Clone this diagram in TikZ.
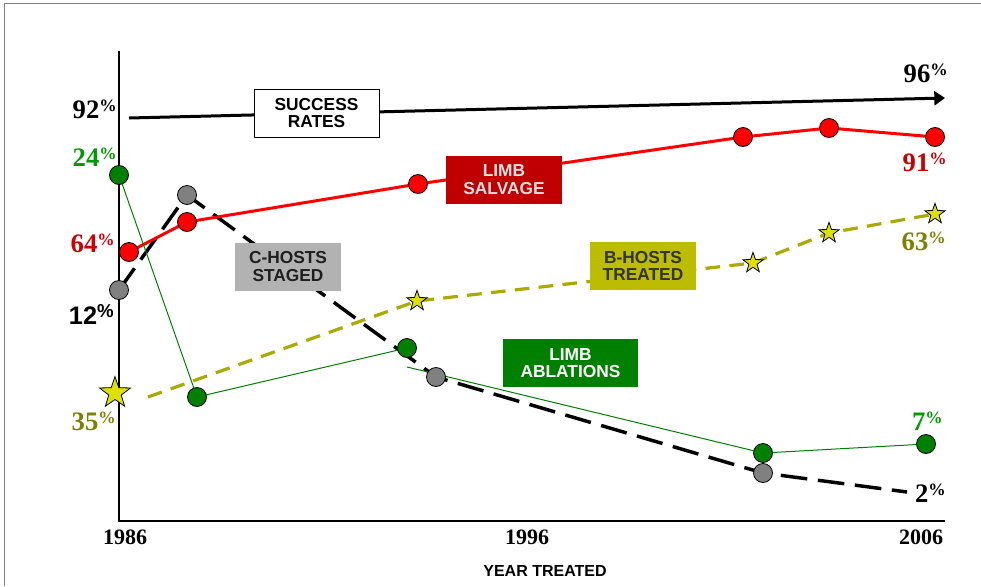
\documentclass[tikz,border=0pt]{standalone}
\usepackage{fontspec}
\setmainfont{Liberation Serif}
\setsansfont{Liberation Sans}
\usetikzlibrary{shapes.geometric,arrows.meta}
\pgfdeclarelayer{back}
\pgfsetlayers{back,main}
\definecolor{salvred}{RGB}{192,0,0}
\definecolor{pctred}{RGB}{204,0,0}
\definecolor{ablgreen}{RGB}{0,128,0}
\definecolor{pctgreen}{RGB}{0,155,0}
\definecolor{stagegray}{RGB}{178,178,178}
\definecolor{dotgray}{RGB}{128,128,128}
\definecolor{hostolive}{RGB}{170,170,0}
\definecolor{boxolive}{RGB}{189,189,0}
\definecolor{pctolive}{RGB}{128,128,0}
\definecolor{staryellow}{RGB}{224,224,0}
\newcommand{\pc}[1]{#1\raisebox{5.25pt}{\fontsize{13}{13}\selectfont\%}}
\begin{document}
\begin{tikzpicture}[x=0.75pt,y=-0.75pt,every node/.style={inner sep=0pt},
  pct/.style={font=\bfseries\fontsize{20}{20}\selectfont,anchor=base east},
  yr/.style={font=\bfseries\fontsize{16.5}{16.5}\selectfont,anchor=base},
  lbox/.style={font=\sffamily\bfseries\fontsize{13}{13}\selectfont,align=center,minimum height=36pt},
  dotc/.style={circle,draw=black,line width=0.6pt,minimum size=14.25pt,fill=#1},
  hoststar/.style={star,star points=5,star point ratio=2.5,draw=black,line width=0.6pt,fill=staryellow,minimum size=#1}]
  \useasboundingbox (0,0) rectangle (981,586);
  \draw[gray,line width=0.75pt] (4,586) -- (4,3) -- (981,3);

  \node[dotc=red] (s1) at (129,252) {};
  \node[dotc=red] (s2) at (187,222) {};
  \node[dotc=red] (s3) at (418,184) {};
  \node[dotc=red] (s4) at (743,137) {};
  \node[dotc=red] (s5) at (829,128) {};
  \node[dotc=red] (s6) at (935,137) {};

  \node[dotc=dotgray] (c1) at (119,290) {};
  \node[dotc=dotgray] (c2) at (187,195) {};
  \node[dotc=dotgray] (c3) at (436,377) {};
  \node[dotc=dotgray] (c4) at (763,473) {};
  \coordinate (c5) at (907,492);

  \node[dotc=ablgreen] (a1) at (119,175) {};
  \node[dotc=ablgreen] (a2) at (197,397) {};
  \node[dotc=ablgreen] (a3) at (407,348) {};
  \coordinate (a3b) at (407,367);
  \node[dotc=ablgreen] (a4) at (763,453) {};
  \node[dotc=ablgreen] (a5) at (926,444) {};

  \node[hoststar=24.5pt] (b1) at (115,393) {};
  \coordinate (b1b) at (148,397);
  \node[hoststar=16pt] (b2) at (417,301) {};
  \node[hoststar=16pt] (b3) at (753,263) {};
  \node[hoststar=16pt] (b4) at (829,233) {};
  \node[hoststar=16pt] (b5) at (935,214) {};

  \coordinate (sr0) at (129,118);
  \coordinate (sr1) at (945,98);

  \begin{pgfonlayer}{back}
    \draw[line width=1.5pt] (119,51) -- (119,521) -- (945,521);
    \draw[line width=2.25pt,-{Triangle[length=8pt,width=10.5pt]}] (sr0) -- (sr1);
    \draw[line width=2.6pt,dash pattern=on 20pt off 8pt] (c1.center) -- (c2.center) -- (c3.center) -- (c4.center) -- (c5);
    \draw[hostolive,line width=2.4pt,dash pattern=on 11pt off 7pt] (b1b) -- (b2.center) -- (b3.center) -- (b4.center) -- (b5.center);
    \draw[red,line width=2.25pt] (s1.center) -- (s2.center) -- (s3.center) -- (s4.center) -- (s5.center) -- (s6.center);
    \draw[ablgreen,line width=0.75pt] (a1.center) -- (a2.center) -- (a3.center);
    \draw[ablgreen,line width=0.75pt] (a3b) -- (a4.center) -- (a5.center);
  \end{pgfonlayer}

  \node[lbox,draw=black,line width=0.5pt,fill=white,minimum width=93.75pt] (sr) at (316.5,113) {SUCCESS\\RATES};
  \node[lbox,fill=salvred,text=white!88!black,minimum width=87pt] (ls) at (504,179.5) {LIMB\\SALVAGE};
  \node[lbox,fill=stagegray,text=black!88,minimum width=79.5pt] (cs) at (288,266.5) {C-HOSTS\\STAGED};
  \node[lbox,fill=boxolive,text=black!80,minimum width=79.5pt] (bt) at (643,266) {B-HOSTS\\TREATED};
  \node[lbox,fill=ablgreen,text=white,minimum width=101.25pt] (la) at (570.5,363) {LIMB\\ABLATIONS};

  \node[pct] (p92) at (117,118) {\pc{92}};
  \node[pct] (p96) at (948,82) {\pc{96}};
  \node[pct,text=pctgreen] (p24) at (117,166) {\pc{24}};
  \node[pct,text=pctred] (p64) at (115,252) {\pc{64}};
  \node[pct,font=\sffamily\bfseries\fontsize{19}{19}\selectfont] (p12) at (114,324) {12\raisebox{5pt}{\fontsize{14}{14}\selectfont\%}};
  \node[pct,text=pctolive] (p35) at (116,430) {\pc{35}};
  \node[pct,text=pctred] (p91) at (947,171) {\pc{91}};
  \node[pct,text=pctolive] (p63) at (946,250) {\pc{63}};
  \node[pct,text=pctgreen] (p7) at (943,430) {\pc{7}};
  \node[pct] (p2) at (946,502) {\pc{2}};

  \node[yr] (y86) at (125,544) {1986};
  \node[yr] (y96) at (527,544) {1996};
  \node[yr] (y06) at (921,544) {2006};
  \node[font=\sffamily\bfseries\fontsize{12}{12}\selectfont,anchor=base] (yt) at (545,576) {YEAR TREATED};
\end{tikzpicture}
\end{document}
